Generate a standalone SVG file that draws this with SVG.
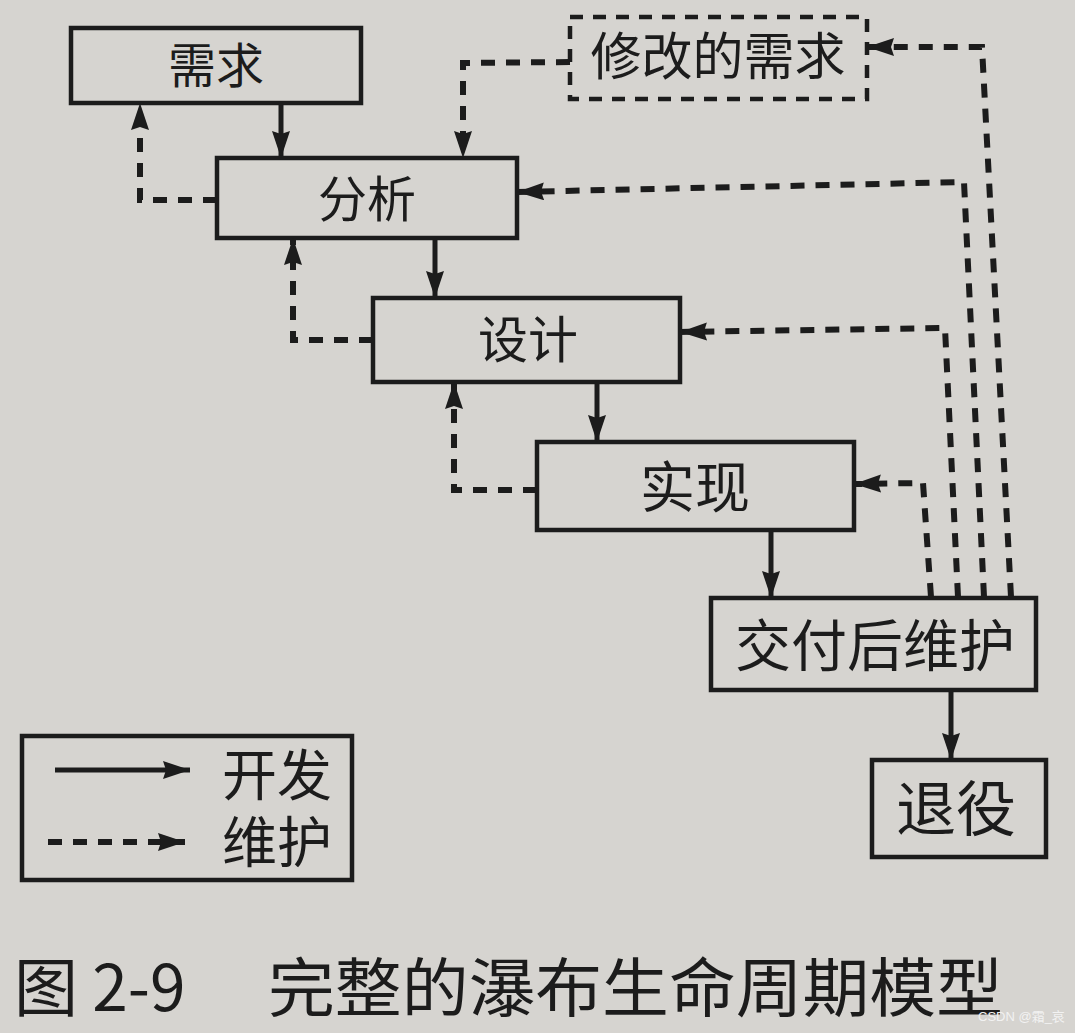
<svg xmlns="http://www.w3.org/2000/svg" width="1075" height="1033" viewBox="0 0 1075 1033">
<defs>
<style>
.box{fill:none;stroke:#1c1c1c;stroke-width:4.5}
.dbox{fill:none;stroke:#1c1c1c;stroke-width:4.5;stroke-dasharray:13 10}
.lbl{font-family:"Liberation Sans","Noto Sans CJK SC",sans-serif;fill:#1c1c1c;text-anchor:middle;dominant-baseline:central}
.dev{fill:none;stroke:#1c1c1c;stroke-width:5;marker-end:url(#ah)}
.mnt{fill:none;stroke:#1c1c1c;stroke-width:6;stroke-dasharray:14 11;marker-end:url(#ah)}
</style>
<marker id="ah" markerUnits="userSpaceOnUse" markerWidth="30" markerHeight="20" refX="27" refY="9" orient="auto">
<path d="M0,0 L27,9 L0,18 L3,9 Z" fill="#1c1c1c"/>
</marker>
</defs>
<rect width="1075" height="1033" fill="#d6d4d0"/>

<g id="node-xuqiu"><rect class="box" x="71" y="28" width="290" height="75"/><text class="lbl" x="216" y="66" font-size="48">需求</text></g>
<g id="node-xiugai"><rect class="dbox" x="570" y="17" width="297" height="82"/><text class="lbl" x="718" y="57" font-size="51">修改的需求</text></g>
<g id="node-fenxi"><rect class="box" x="217" y="158" width="300" height="80"/><text class="lbl" x="367" y="200" font-size="49">分析</text></g>
<g id="node-sheji"><rect class="box" x="373" y="298" width="307" height="84"/><text class="lbl" x="528" y="341" font-size="50">设计</text></g>
<g id="node-shixian"><rect class="box" x="537" y="442" width="317" height="88"/><text class="lbl" x="695" y="488" font-size="55">实现</text></g>
<g id="node-jiaofu"><rect class="box" x="711" y="598" width="325" height="92"/><text class="lbl" x="875" y="646" font-size="56">交付后维护</text></g>
<g id="node-tuiyi"><rect class="box" x="872" y="760" width="174" height="97"/><text class="lbl" x="956" y="810" font-size="60">退役</text></g>

<g id="connectors">
<path class="dev" d="M281,103 L281,158"/>
<path class="dev" d="M435,238 L435,298"/>
<path class="dev" d="M597,382 L597,442"/>
<path class="dev" d="M771,530 L771,598"/>
<path class="dev" d="M951,690 L951,760"/>
<path class="mnt" d="M217,200 L140,200 L140,103"/>
<path class="mnt" d="M373,340 L293,340 L293,238"/>
<path class="mnt" d="M537,490 L454,490 L454,382"/>
<path class="mnt" d="M570,62 L463,63 L463,158"/>
<path class="mnt" d="M1011,597 L982,47 L867,47"/>
<path class="mnt" d="M984,597 L964,182 L517,192"/>
<path class="mnt" d="M958,597 L945,328 L680,332"/>
<path class="mnt" d="M931,597 L923,483 L854,484"/>
</g>

<g id="legend">
<rect class="box" x="22" y="736" width="330" height="144"/>
<path class="dev" d="M55,770 L190,770"/>
<path class="mnt" d="M48,842 L185,842"/>
<text class="lbl" x="277" y="776" font-size="55">开发</text>
<text class="lbl" x="277" y="843" font-size="55">维护</text>
</g>

<g id="caption">
<text x="14" y="1011" font-size="64" font-family="Noto Sans CJK SC, Noto Sans, sans-serif" fill="#1c1c1c">图 2-9</text>
<text x="268" y="1011" font-size="64" textLength="735" lengthAdjust="spacingAndGlyphs" font-family="Noto Sans CJK SC, Noto Sans, sans-serif" fill="#1c1c1c">完整的瀑布生命周期模型</text>
<text x="978" y="1021" font-size="13" font-family="Liberation Sans, Noto Sans CJK SC, sans-serif" fill="#f2f2f2">CSDN @霜_哀</text>
</g>
</svg>
